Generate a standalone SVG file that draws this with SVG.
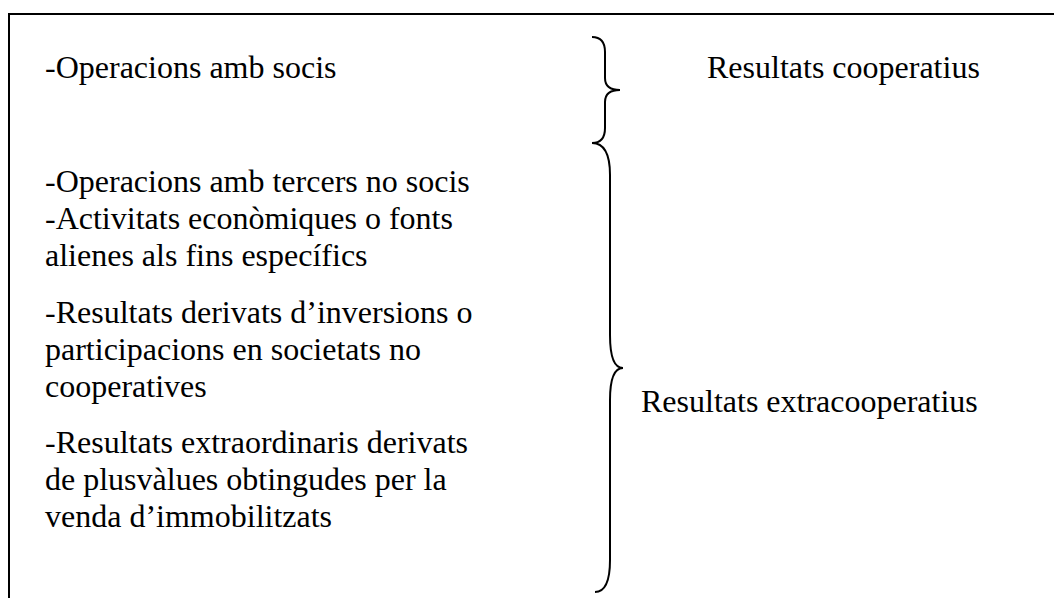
<svg xmlns="http://www.w3.org/2000/svg" width="1054" height="598" viewBox="0 0 1054 598">
<style>
text{font-family:'Liberation Serif','Times New Roman',Times,serif;font-size:32px;fill:#000}
.b{fill:none;stroke:#000;stroke-width:2}
</style>
<rect width="1054" height="598" fill="#fff"/>
<g id="frame"><path class="b" d="M9,598 V14 H1054"/></g>
<g id="items">
<text x="45" y="78">-Operacions amb socis</text>
<text x="45" y="192">-Operacions amb tercers no socis</text>
<text x="45" y="229">-Activitats econòmiques o fonts</text>
<text x="45" y="266">alienes als fins específics</text>
<text x="45" y="323">-Resultats derivats d’inversions o</text>
<text x="45" y="360">participacions en societats no</text>
<text x="45" y="397">cooperatives</text>
<text x="45" y="453">-Resultats extraordinaris derivats</text>
<text x="45" y="490">de plusvàlues obtingudes per la</text>
<text x="45" y="527">venda d’immobilitzats</text>
</g>
<g id="connectors">
<path class="b" d="M592,37 C600,37 605,42 605,52 V78 C605,86 610,90 620,90 C610,90 605,94 605,102 V128 C605,138 600,143 592,143"/>
<path class="b" d="M592,143 C603,143 610,152 610,175 V335 C610,358 615,368 623,368 C615,368 610,378 610,400 V560 C610,582 605,592 595,592"/>
</g>
<g id="labels">
<text x="641" y="412">Resultats extracooperatius</text>
<text x="707" y="78">Resultats cooperatius</text>
</g>
</svg>
